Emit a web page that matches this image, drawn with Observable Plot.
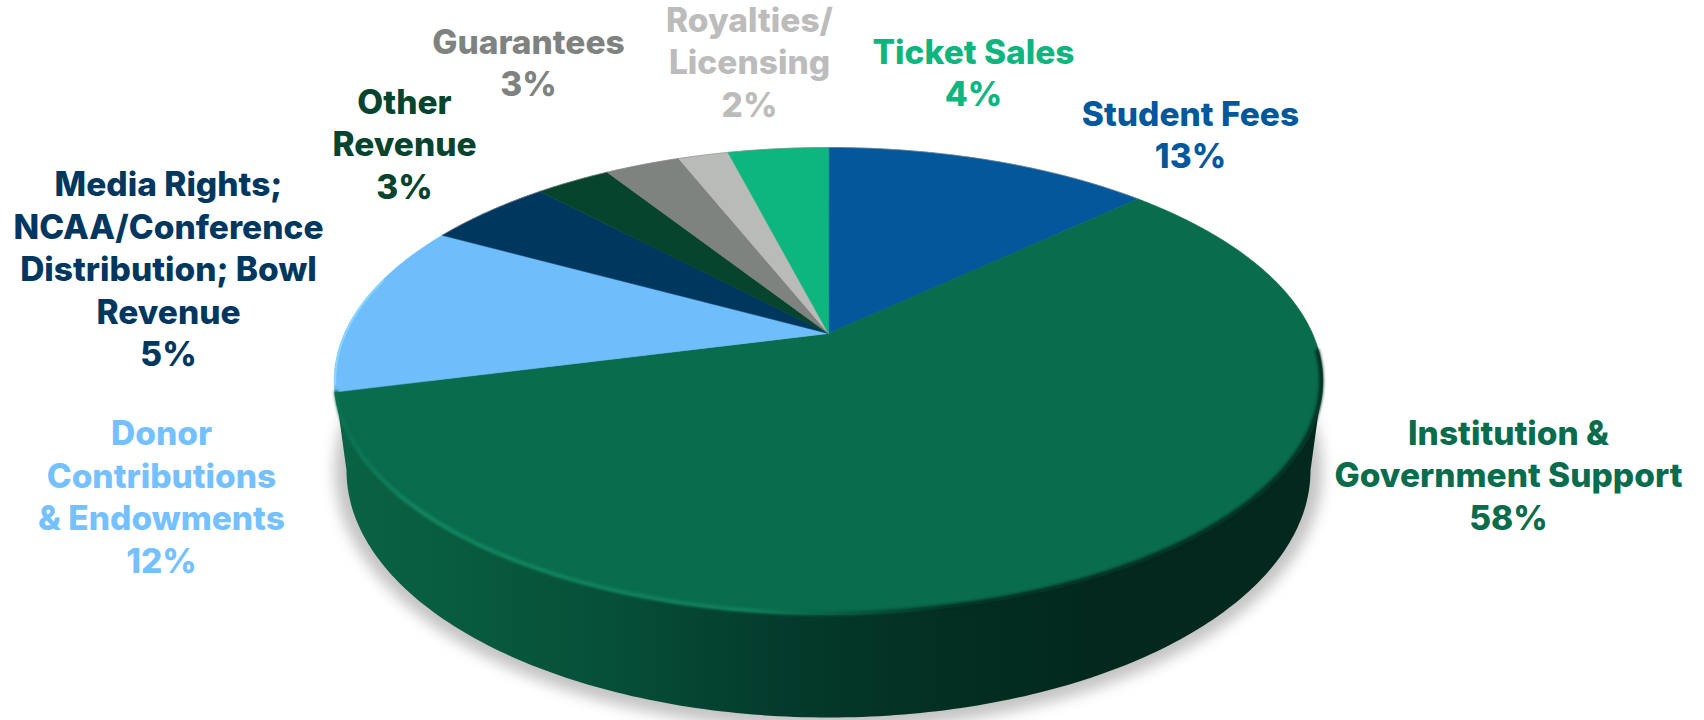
<!DOCTYPE html>
<html>
<head>
<meta charset="utf-8">
<title>Athletics revenue sources</title>
<script src="https://cdn.jsdelivr.net/npm/d3@7"></script>
<script src="https://cdn.jsdelivr.net/npm/@observablehq/plot@0.6"></script>
<style>
  html, body { margin: 0; padding: 0; background: #fff; }
  svg { display: block; }
</style>
</head>
<body>
<script>
// Revenue sources, clockwise from twelve o'clock.
const categories = [
  "Student Fees",
  "Institution & Government Support",
  "Donor Contributions & Endowments",
  "Media Rights",
  "Other Revenue",
  "Guarantees",
  "Royalties/Licensing",
  "Ticket Sales"
];
const shares = [13, 58, 12, 5, 3, 3, 2, 4];
const labelLines = [
  ["Student Fees"],
  ["Institution &", "Government Support"],
  ["Donor", "Contributions", "& Endowments"],
  ["Media Rights;", "NCAA/Conference", "Distribution; Bowl", "Revenue"],
  ["Other", "Revenue"],
  ["Guarantees"],
  ["Royalties/", "Licensing"],
  ["Ticket Sales"]
];
const sliceColors = ["#02589a", "#086c4d", "#6fbefb", "#00375f", "#06442d", "#7f8380", "#b9bbb8", "#0db57f"];
const labelColors = ["#02589a", "#086c4d", "#75c1ff", "#00375f", "#06442d", "#7f8380", "#bcbcbc", "#0db57f"];

// Where each label block is centred.
const labelX = [1190, 1508, 161, 168, 404, 528, 749, 973];
const labelY = [133, 473, 495, 267, 142, 61, 60, 71];

// Disc seen in perspective: a unit circle mapped by a homography, so the
// pie centre sits above the middle of the drawn ellipse.
const view = {cx: 828, cy: 333, a: 223.8, b: 484, k: 0.2034};
const base = {cx: 828, cy: 470, rx: 482, ry: 247};

function rimPoint(fraction, r = 1) {
  const theta = 2 * Math.PI * fraction;
  const u = r * Math.sin(theta);
  const v = r * Math.cos(theta);
  const w = 1 + view.k * v;
  return {x: view.cx + (view.b * u) / w, y: view.cy - (view.a * v) / w};
}
function rimArc(from, to, r = 1) {
  const n = Math.max(2, Math.ceil(Math.abs(to - from) * 720));
  return d3.range(n + 1).map((i) => rimPoint(from + ((to - from) * i) / n, r));
}
function basePoint(t, grow = 0) {
  return {x: base.cx + (base.rx + grow) * Math.sin(t), y: base.cy + (base.ry + grow) * Math.cos(t)};
}

// One closed polygon per slice, built from the shares.
const total = d3.sum(shares);
let running = 0;
const slicePoints = categories.flatMap((name, i) => {
  const from = running / total;
  running += shares[i];
  const to = running / total;
  return [{x: view.cx, y: view.cy}, ...rimArc(from, to)].map((p) => ({...p, name}));
});

// Side wall: down from the widest points of the top face, round the base.
const topWidest = 1 / Math.sqrt(1 - view.k * view.k);
const wallTopRight = {x: view.cx + view.b * topWidest, y: rimPoint(0.25 + 0.0325).y};
const wallTopLeft = {x: view.cx - view.b * topWidest, y: wallTopRight.y};
const baseArc = d3.range(0, 181).map((i) => basePoint(Math.PI / 2 - (i * Math.PI) / 180));
const wallPoints = [wallTopRight, ...baseArc, wallTopLeft];
const shadowPoints = d3.range(0, 361, 2).map((d) => basePoint((d * Math.PI) / 180, 12));

const labelRows = categories.map((name, i) => ({
  name,
  x: labelX[i],
  y: labelY[i],
  text: [...labelLines[i], `${shares[i]}%`].join("\n")
}));

function gradients() {
  const g = document.createElementNS("http://www.w3.org/2000/svg", "defs");
  g.innerHTML = `
    <linearGradient id="wallShade" gradientUnits="userSpaceOnUse" x1="334" x2="1322" y1="0" y2="0">
      <stop offset="0" stop-color="#0a6346"/>
      <stop offset="0.14" stop-color="#085a3e"/>
      <stop offset="0.27" stop-color="#065039"/>
      <stop offset="0.45" stop-color="#043b2c"/>
      <stop offset="0.62" stop-color="#032f22"/>
      <stop offset="0.78" stop-color="#03281d"/>
      <stop offset="1" stop-color="#03281d"/>
    </linearGradient>
    <linearGradient id="rimShade" gradientUnits="userSpaceOnUse" x1="334" x2="1322" y1="0" y2="0">
      <stop offset="0" stop-color="#0a6f50"/>
      <stop offset="0.08" stop-color="#148760"/>
      <stop offset="0.42" stop-color="#12805c"/>
      <stop offset="0.52" stop-color="#07583f"/>
      <stop offset="0.62" stop-color="#03281d"/>
      <stop offset="1" stop-color="#03281d"/>
    </linearGradient>`;
  return g;
}

const chart = Plot.plot({
  width: 1704,
  height: 720,
  margin: 0,
  x: {axis: null, domain: [0, 1704]},
  y: {axis: null, domain: [720, 0]},
  color: {domain: categories, range: sliceColors},
  marks: [
    gradients,
    // soft ground shadow under the disc
    Plot.line(shadowPoints, {x: "x", y: "y", curve: "linear-closed", fill: "#c4c4c4", stroke: "none", imageFilter: "blur(7px)"}),
    // side wall
    Plot.line(wallPoints, {x: "x", y: "y", curve: "linear-closed", fill: "url(#wallShade)", stroke: "none"}),
    // top face
    Plot.line(slicePoints, {x: "x", y: "y", z: "name", curve: "linear-closed", fill: "name", stroke: "name", strokeWidth: 0.6}),
    // bevel along the front of the largest slice
    Plot.line(rimArc(0.262, 0.71, 0.997), {x: "x", y: "y", stroke: "url(#rimShade)", strokeWidth: 4, imageFilter: "blur(1.6px)"}),
    // pale edge on the donor slice and thin grey edge along the back
    Plot.line(rimArc(0.715, 0.79, 0.998), {x: "x", y: "y", stroke: "#8ad6ff", strokeWidth: 2, imageFilter: "blur(0.6px)"}),
    Plot.line(rimArc(-0.17, 0.13, 1), {x: "x", y: "y", stroke: "#8a8a8a", strokeWidth: 1, strokeOpacity: 0.55, imageFilter: "blur(0.4px)"}),
    // labels
    Plot.text(labelRows, {
      x: "x",
      y: "y",
      text: "text",
      fill: (d) => labelColors[categories.indexOf(d.name)],
      fontFamily: "Inter",
      fontWeight: 800,
      fontSize: 33.5,
      lineHeight: 1.27,
      lineAnchor: "middle",
      textAnchor: "middle"
    })
  ]
});
document.body.append(chart);
</script>
</body>
</html>
